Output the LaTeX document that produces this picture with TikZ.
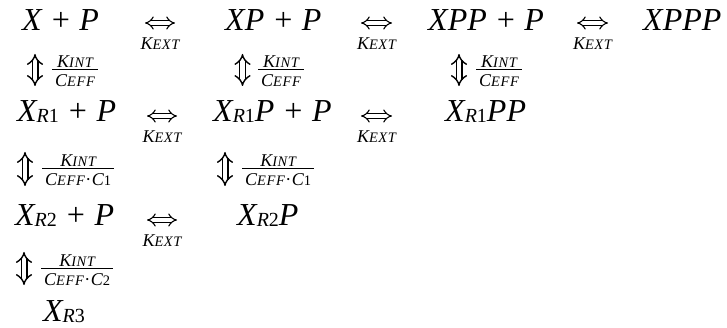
\documentclass[tikz,border=0pt]{standalone}
\usepackage{fontspec}
\setmainfont{Liberation Serif}
\usetikzlibrary{arrows.meta,calc}

% small-capital style constants: first letter full size, rest reduced
\newcommand\kcap[2]{{\itshape\fontsize{18}{19}\selectfont #1\fontsize{14.5}{15}\selectfont\addfontfeatures{LetterSpace=4}#2}}
\newcommand\kext{\kcap{K}{EXT}}
\newcommand\kint{\kcap{K}{INT}}
\newcommand\ceff{\kcap{C}{EFF}}
\newcommand\cidx[1]{{\itshape\fontsize{18}{19}\selectfont C\upshape\fontsize{14.5}{15}\selectfont #1}}
\newcommand\mdot{{\fontsize{18}{19}\selectfont\kern0.5pt·\kern0.5pt}}
% species index such as R1, R2, R3
\newcommand\ridx[1]{\raisebox{-1pt}{\fontsize{20}{20}\selectfont\itshape R\upshape #1}}
% rate-constant fraction: numerator, bar, denominator
\newcommand\kfrac[2]{\vbox{\halign{\hfil\kern3pt##\kern3pt\hfil\cr
  #1\cr\noalign{\kern1.5pt\hrule height0.9pt\kern5pt}#2\cr}}}

\tikzset{
  species/.style={inner sep=0pt, anchor=base west, font=\fontsize{32}{34}\selectfont\itshape},
  hrate/.style={inner sep=0pt, anchor=base},
  vrate/.style={inner sep=0pt, anchor=north west},
  heq/.style={double, double distance=3.4pt, line width=1.1pt,
    {Implies}-{Implies}},
  veq/.style={double, double distance=4.2pt, line width=1.4pt,
    {Implies}-{Implies}}
}

\begin{document}
\begin{tikzpicture}[x=1pt,y=-1pt]
\useasboundingbox (0,0) rectangle (727,328);

% ---- row 1 ----
\node[species] (a1) at (22,31) {X + P};
\node[species] (a2) at (225,31) {XP + P};
\node[species] (a3) at (428,31) {XPP + P};
\node[species] (a4) at (643,31) {XPPP};
% ---- row 2 ----
\node[species] (b1) at (17,122) {X\ridx{1} + P};
\node[species] (b2) at (213,122) {X\ridx{1}P + P};
\node[species] (b3) at (445,122) {X\ridx{1}PP};
% ---- row 3 ----
\node[species] (c1) at (15,226) {X\ridx{2} + P};
\node[species] (c2) at (237,226) {X\ridx{2}P};
% ---- row 4 ----
\node[species] (d1) at (43,321) {X\ridx{3}};

% ---- horizontal equilibria (external binding) ----
\foreach \n/\xa/\xb/\y in {ha1/145/175/23, ha2/361/392/23, ha3/577/608/23,
                           hb1/147/177/116, hb2/361/392/116,
                           hc1/147/177/220}{
  \coordinate (\n w) at (\xa,\y);
  \coordinate (\n e) at (\xb,\y);
  \draw[heq] (\n w) -- (\n e);
  \node[hrate] (\n k) at ($(\n w)!0.5!(\n e)+(0,26.5)$) {\kext};
}

% ---- vertical equilibria (internal binding) ----
\foreach \n/\x/\ya/\yb/\fx/\fy/\den in {
    va1/35/54/86/52/69.5/\ceff,
    va2/242.5/54/86/258/69.5/\ceff,
    va3/459/54/86/476/69.5/\ceff,
    vb1/25/152/186/42/168/{\ceff\mdot\cidx{1}},
    vb2/225/152/186/242/168/{\ceff\mdot\cidx{1}},
    vc1/24/252/285/41/268/{\ceff\mdot\cidx{2}}}{
  \coordinate (\n n) at (\x,\ya);
  \coordinate (\n s) at (\x,\yb);
  \draw[veq] (\n n) -- (\n s);
  \node[vrate] (\n k) at (\fx,\fy-13.9) {\kfrac{\kint}{\den}};
}
\end{tikzpicture}
\end{document}
